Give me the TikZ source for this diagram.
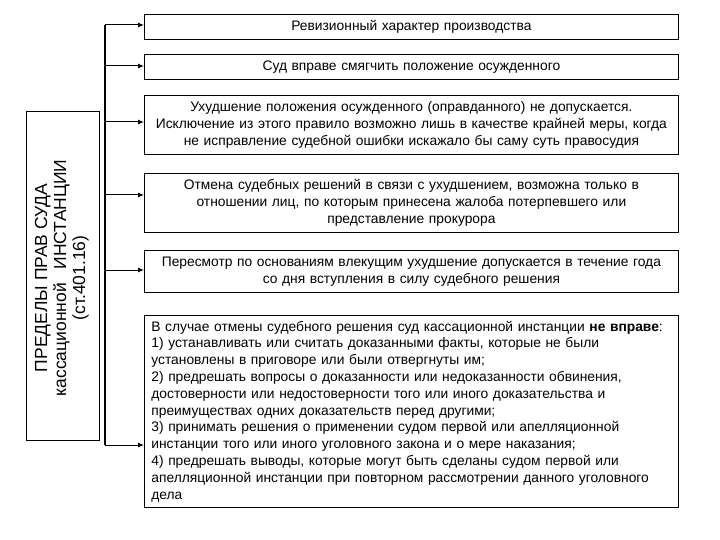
\documentclass[tikz,border=0pt]{standalone}
\usepackage{fontspec}
\setmainfont{Liberation Sans}
\usetikzlibrary{arrows.meta}
\tikzset{
  infobox/.style={draw=black, line width=0.8pt, anchor=north west, minimum width=534pt,
    text width=520pt, inner xsep=7pt, inner ysep=2pt, align=center,
    font=\fontsize{13.8}{16.8}\selectfont},
  leftbox/.style={draw=black, line width=0.8pt, anchor=north west, minimum width=73pt, minimum height=329pt, inner sep=0pt},
  lefttext/.style={rotate=90, align=center, inner sep=0pt, font=\fontsize{17.5}{19}\selectfont},
  bus/.style={line width=1.2pt},
  arr/.style={line width=1pt, -{Latex[length=6pt,width=5pt]}},
}
\begin{document}
\begin{tikzpicture}[x=1pt,y=1pt]
\useasboundingbox (0,0) rectangle (720,-540);
\node[infobox, minimum height=25pt] (b1) at (144,-14) {Ревизионный характер производства};
\node[infobox, minimum height=25pt] (b2) at (144,-54) {Суд вправе смягчить положение осужденного};
\node[infobox, minimum height=59pt] (b3) at (144,-95) {Ухудшение положения осужденного (оправданного) не допускается.\\Исключение из этого правило возможно лишь в качестве крайней меры, когда\\не исправление судебной ошибки искажало бы саму суть правосудия};
\node[infobox, minimum height=59pt] (b4) at (144,-173) {Отмена судебных решений в связи с ухудшением, возможна только в\\отношении лиц, по которым принесена жалоба потерпевшего или\\представление прокурора};
\node[infobox, minimum height=42pt] (b5) at (144,-250) {Пересмотр по основаниям влекущим ухудшение допускается в течение года\\со дня вступления в силу судебного решения};
\node[infobox, minimum height=192pt, align=left] (b6) at (144,-315) {В случае отмены судебного решения суд кассационной инстанции \textbf{не вправе}:\\
1) устанавливать или считать доказанными факты, которые не были\\
установлены в приговоре или были отвергнуты им;\\
2) предрешать вопросы о доказанности или недоказанности обвинения,\\
достоверности или недостоверности того или иного доказательства и\\
преимуществах одних доказательств перед другими;\\
3) принимать решения о применении судом первой или апелляционной\\
инстанции того или иного уголовного закона и о мере наказания;\\
4) предрешать выводы, которые могут быть сделаны судом первой или\\
апелляционной инстанции при повторном рассмотрении данного уголовного\\
дела};
\node[leftbox] (lb) at (26,-111) {};
\node[lefttext] (lt) at ([xshift=-1pt,yshift=-2pt]lb.center) {ПРЕДЕЛЫ ПРАВ СУДА\\кассационной\hspace{0.5em} ИНСТАНЦИИ\\(ст.401.16)};
\coordinate (j1) at (105,-25);
\coordinate (j2) at (105,-66);
\coordinate (j3) at (105,-122);
\coordinate (j4) at (105,-195);
\coordinate (j5) at (105,-270);
\coordinate (j6) at (105,-445);
\draw[bus] (j1) -- (j6);
\draw[arr] (j1) -- (j1 -| b1.west);
\draw[arr] (j2) -- (j2 -| b2.west);
\draw[arr] (j3) -- (j3 -| b3.west);
\draw[arr] (j4) -- (j4 -| b4.west);
\draw[arr] (j5) -- (j5 -| b5.west);
\draw[arr] (j6) -- (j6 -| b6.west);
\end{tikzpicture}
\end{document}
